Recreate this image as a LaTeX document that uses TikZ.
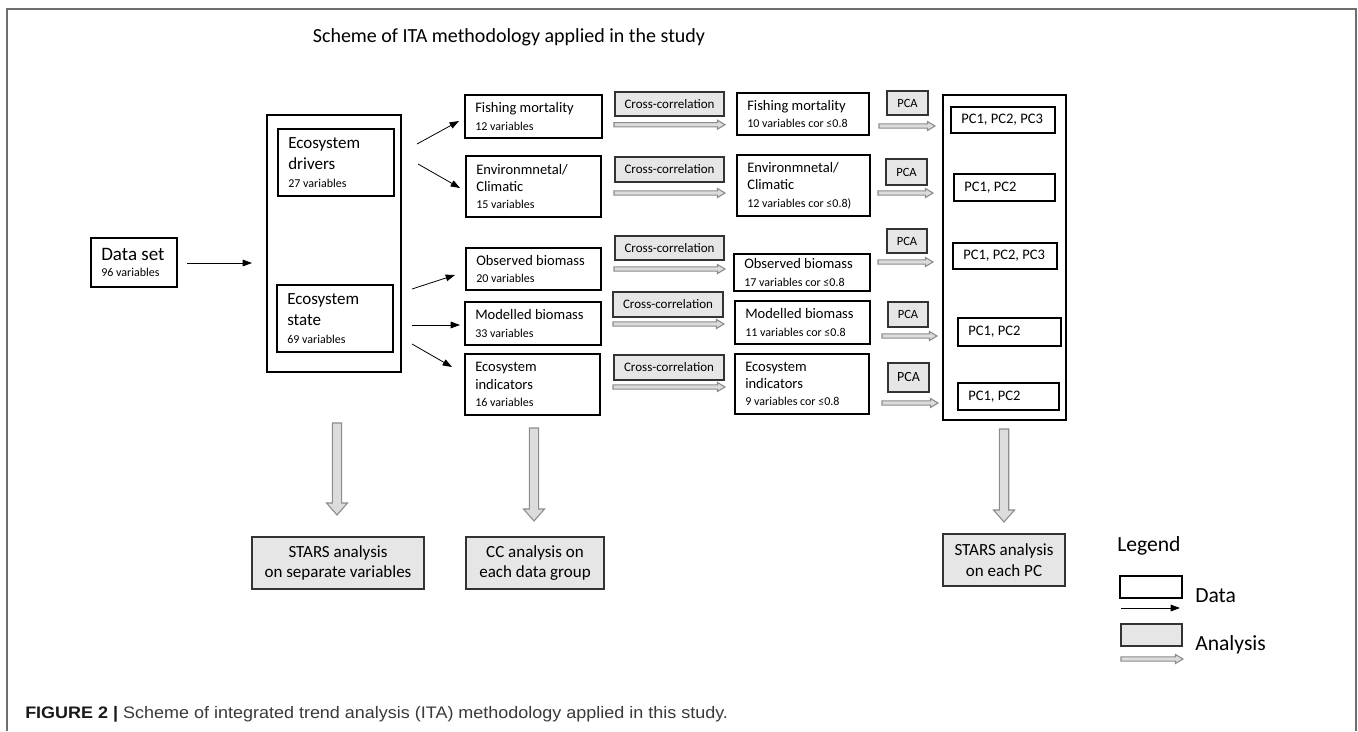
\documentclass[tikz,border=0pt]{standalone}
\usepackage{fontspec}
\usepackage{graphicx}
\setmainfont{Carlito}
\newfontfamily\capfont{Liberation Sans}
\usetikzlibrary{arrows.meta}
\definecolor{anafill}{HTML}{E7E6E6}
\definecolor{arrfill}{HTML}{DCDCDC}
\definecolor{arrdraw}{HTML}{8C8C8C}
\definecolor{framecol}{HTML}{6E6E6E}
\definecolor{capgray}{HTML}{3A3A3A}
\newcommand\fzTitle{\fontsize{15}{18}\selectfont}
\newcommand\fzBig{\fontsize{14.25}{11.5}\selectfont}
\newcommand\fzMid{\fontsize{12.75}{15.5}\selectfont}
\newcommand\fzBox{\fontsize{10.9}{13}\selectfont}
\newcommand\fzSmall{\fontsize{9}{11}\selectfont}
\newcommand\fzCC{\fontsize{9.75}{12}\selectfont}
\newcommand\fzLeg{\fontsize{16.2}{19}\selectfont}
% generic box: name x1 y1 x2 y2 style text(centred)
\newcommand\bx[7]{%
  \pgfmathsetmacro\bxw{((#4)-(#2))*0.75}%
  \pgfmathsetmacro\bxh{((#5)-(#3))*0.75}%
  \node[#6, minimum width=\bxw pt, minimum height=\bxh pt] (#1) at ({((#2)+(#4))/2},{((#3)+(#5))/2}) {#7};}
% data box with left-aligned text: name x1 y1 x2 y2 font text
\newcommand\dbx[7]{%
  \bx{#1}{#2}{#3}{#4}{#5}{gbox}{}%
  \node[dtext, font=#6] (#1t) at ({(#2)+10},{((#3)+(#5))/2}) {#7};}
\newcommand\hollowR[4]{%
  \coordinate (#1) at (#2,#3);
  \draw[harr] (#1) ++(0,-2.1) -- ++({#4-#2-7.5},0) -- ++(0,-2.4) -- ++(7.5,4.5) -- ++(-7.5,4.5) -- ++(0,-2.4) -- ++({-(#4-#2-7.5)},0) -- cycle;}
\newcommand\hollowD[4]{%
  \coordinate (#1) at (#2,#3);
  \draw[harr] (#1) ++(-4.7,0) -- ++(0,{#4-#3-12}) -- ++(-5.8,0) -- ++(10.5,12) -- ++(10.5,-12) -- ++(-5.8,0) -- ++(0,{-(#4-#3-12)}) -- cycle;}
\begin{document}
\begin{tikzpicture}[x=0.75pt,y=-0.75pt,
  dtext/.style={anchor=west, align=left, inner sep=0pt},
  abox/.style={draw=black!80, line width=1.1pt, fill=anafill, align=center, inner sep=1pt},
  gbox/.style={draw=black, line width=1.1pt, fill=white},
  harr/.style={draw=arrdraw, fill=arrfill, line width=0.8pt, line join=miter},
  larr/.style={draw=black, line width=0.6pt, -{Triangle[length=7pt,width=5pt]}},
  plain/.style={inner sep=0pt, anchor=base west}]
\useasboundingbox (0,0) rectangle (1358,731);
\fill[white] (0,0) rectangle (1358,731);
\draw[framecol, line width=1.5pt] (7,731) -- (7,9) -- (1356,9) -- (1356,731);

\node[inner sep=0pt, anchor=base] (title) at (509,43) {\fzTitle Scheme of ITA methodology applied in the study};

% data set
\dbx{ds}{91}{238}{177}{287}{\fzBig}{Data set\\{\fzSmall 96 variables}}
% big left box
\bx{big}{267}{115}{401}{372}{gbox}{}
\dbx{drv}{278}{129}{394}{196}{\fzMid}{Ecosystem\\drivers\\[-2pt]{\fzSmall 27 variables}}
\dbx{sta}{277}{285}{393}{352}{\fzMid}{Ecosystem\\state\\[-2pt]{\fzSmall 69 variables}}

% column 1
\dbx{fm1}{465}{95}{602}{138}{\fzBox}{Fishing mortality\\{\fzSmall 12 variables}}
\dbx{en1}{466}{156}{601}{217}{\fzBox}{Environmnetal/\\Climatic\\{\fzSmall 15 variables}}
\dbx{ob1}{466}{248}{601}{290}{\fzBox}{Observed biomass\\{\fzSmall 20 variables}}
\dbx{mb1}{465}{302}{601}{345}{\fzBox}{Modelled biomass\\{\fzSmall 33 variables}}
\dbx{ei1}{465}{354}{600}{415}{\fzBox}{Ecosystem\\indicators\\{\fzSmall 16 variables}}

% cross-correlation
\bx{cc1}{615}{92}{724}{116}{abox, font=\fzCC}{Cross-correlation}
\bx{cc2}{615}{157}{724}{182}{abox, font=\fzCC}{Cross-correlation}
\bx{cc3}{615}{236}{724}{260}{abox, font=\fzCC}{Cross-correlation}
\bx{cc4}{613}{292}{723}{317}{abox, font=\fzCC}{Cross-correlation}
\bx{cc5}{614}{355}{724}{380}{abox, font=\fzCC}{Cross-correlation}

% column 2
\dbx{fm2}{737}{93}{869}{135}{\fzBox}{Fishing mortality\\{\fzSmall 10 variables cor ≤0.8}}
\dbx{en2}{737}{155}{870}{216}{\fzBox}{Environmnetal/\\Climatic\\{\fzSmall 12 variables cor ≤0.8)}}
\dbx{ob2}{734}{254}{870}{291}{\fzBox}{Observed biomass\\{\fzSmall 17 variables cor ≤0.8}}
\dbx{mb2}{735}{301}{870}{344}{\fzBox}{Modelled biomass\\{\fzSmall 11 variables cor ≤0.8}}
\dbx{ei2}{735}{354}{869}{414}{\fzBox}{Ecosystem\\indicators\\{\fzSmall 9 variables cor ≤0.8}}

% PCA
\bx{pa1}{887}{91}{928}{115}{abox, font=\fontsize{9.4}{11}\selectfont}{PCA}
\bx{pa2}{886}{159}{927}{185}{abox, font=\fontsize{9.4}{11}\selectfont}{PCA}
\bx{pa3}{887}{229}{927}{253}{abox, font=\fontsize{9.4}{11}\selectfont}{PCA}
\bx{pa4}{888}{302}{928}{327}{abox, font=\fontsize{9.4}{11}\selectfont}{PCA}
\bx{pa5}{888}{363}{929}{392}{abox, font=\fontsize{10.5}{12}\selectfont}{PCA}

% right box
\bx{rbig}{943}{95}{1066}{420}{gbox}{}
\dbx{pc1}{951}{107}{1055}{133}{\fzBox}{PC1, PC2, PC3}
\dbx{pc2}{954}{174}{1055}{201}{\fzBox}{PC1, PC2}
\dbx{pc3}{953}{243}{1057}{269}{\fzBox}{PC1, PC2, PC3}
\dbx{pc4}{958}{318}{1061}{346}{\fzBox}{PC1, PC2}
\dbx{pc5}{958}{383}{1059}{410}{\fzBox}{PC1, PC2}

% bottom analysis boxes
\bx{st1}{252}{537}{424}{589}{abox, font=\fzMid}{STARS analysis\\on separate variables}
\bx{ccb}{466}{537}{604}{589}{abox, font=\fzMid}{CC analysis on\\each data group}
\bx{st2}{943}{534}{1065}{586}{abox, font=\fzMid}{STARS analysis\\on each PC}

% line arrows
\coordinate (a0s) at (187,263); \coordinate (a0e) at (252,263);
\draw[larr] (a0s) -- (a0e);
\coordinate (a1s) at (417,144); \coordinate (a1e) at (459,121);
\draw[larr] (a1s) -- (a1e);
\coordinate (a2s) at (418,164); \coordinate (a2e) at (460,188);
\draw[larr] (a2s) -- (a2e);
\coordinate (a3s) at (412,289); \coordinate (a3e) at (455,275);
\draw[larr] (a3s) -- (a3e);
\coordinate (a4s) at (412,325); \coordinate (a4e) at (460,325);
\draw[larr] (a4s) -- (a4e);
\coordinate (a5s) at (412,344); \coordinate (a5e) at (452,367);
\draw[larr] (a5s) -- (a5e);

% hollow arrows: cross-correlation
\hollowR{h1}{614}{124.7}{725}
\hollowR{h2}{614}{193}{725}
\hollowR{h3}{614}{269}{725}
\hollowR{h4}{613}{324}{724}
\hollowR{h5}{613}{387}{725}
% hollow arrows: PCA
\hollowR{q1}{879}{126}{935}
\hollowR{q2}{878}{193}{933}
\hollowR{q3}{878}{262}{933}
\hollowR{q4}{882}{336}{937}
\hollowR{q5}{882}{403}{938}
% down arrows
\hollowD{d1}{337}{423}{515}
\hollowD{d2}{534}{428}{521}
\hollowD{d3}{1004}{429}{522}

% legend
\node[plain] (lgt) at (1117,551) {\fzLeg Legend};
\bx{lgd}{1120}{576}{1182}{598}{gbox}{}
\node[plain] (lgdt) at (1195,602) {\fzLeg Data};
\coordinate (lg1) at (1121,608); \coordinate (lg2) at (1180,608);
\draw[larr] (lg1) -- (lg2);
\bx{lga}{1121}{624}{1182}{646}{abox}{}
\node[plain] (lgat) at (1195,650) {\fzLeg Analysis};
\hollowR{lgh}{1121}{659}{1183}

% caption
\node[plain] (cap) at (25,718) {\resizebox{527pt}{\height}{\capfont\fontsize{12.5}{15}\selectfont{\bfseries\color{black!90}FIGURE 2 |}\ \textcolor{capgray}{Scheme of integrated trend analysis (ITA) methodology applied in this study.}}};
\end{tikzpicture}
\end{document}
